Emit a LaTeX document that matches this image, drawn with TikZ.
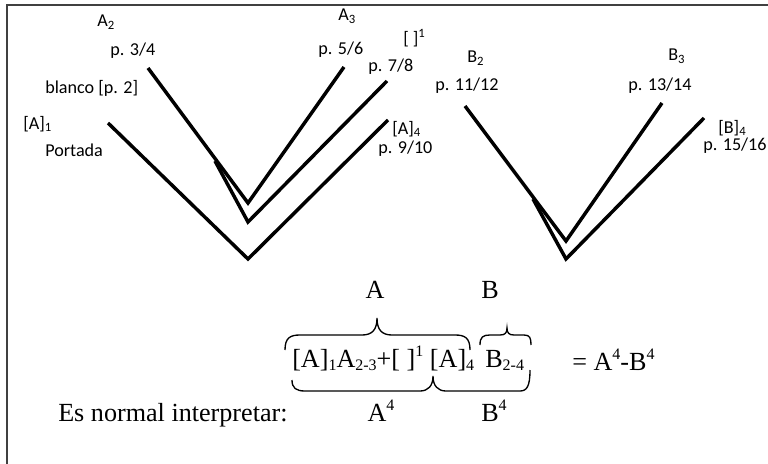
\documentclass[tikz,border=0pt]{standalone}
\usepackage{fontspec}
\setmainfont{Liberation Serif}
\newfontfamily\lab{Carlito}
\newcommand{\lo}[1]{\raisebox{-0.12em}{\fontsize{12}{12}\selectfont #1}}
\newcommand{\hi}[1]{\raisebox{0.42em}{\fontsize{12}{12}\selectfont #1}}
\tikzset{
  pg/.style={line width=2.6pt, line join=miter},
  lbl/.style={anchor=west, inner sep=0pt, font=\lab\fontsize{13.6}{15}\selectfont},
  ser/.style={anchor=base west, inner sep=0pt, font=\fontsize{19.6}{22}\selectfont},
  brc/.style={line width=1pt},
  frame/.style={line width=1.4pt, black!75}
}
\begin{document}
\begin{tikzpicture}[x=0.75pt,y=-0.75pt]
\useasboundingbox (0,0) rectangle (768,464);
% frame
\coordinate (f1) at (7,464);
\coordinate (f2) at (7,5);
\coordinate (f3) at (768,5);
\draw[frame] (f1) -- (f2) -- (f3);

% A group
\coordinate (a1) at (108,123);
\coordinate (a2) at (148,68);
\coordinate (a3) at (344,67);
\coordinate (a4) at (387,81);
\coordinate (a5) at (388,120);
\coordinate (av1) at (248,203);
\coordinate (av2) at (248,222);
\coordinate (av3) at (248,259);
\coordinate (ab) at (215,161);
\draw[pg] (a1) -- (av3) -- (a5);
\draw[pg] (a2) -- (av1) -- (a3);
\draw[pg] (ab) -- (av2) -- (a4);

% B group
\coordinate (b2) at (465,106);
\coordinate (b3) at (662,103);
\coordinate (b4) at (704,118);
\coordinate (bv1) at (566,241);
\coordinate (bv2) at (566,259);
\coordinate (bb) at (533,199);
\draw[pg] (b2) -- (bv1) -- (b3);
\draw[pg] (bb) -- (bv2) -- (b4);

% sans labels
\node[lbl] (lA2) at (97,22) {A\textsubscript{2}};
\node[lbl] (lp34) at (110,51) {p. 3/4};
\node[lbl] (lbl2) at (45,88) {blanco [p. 2]};
\node[lbl] (lA1) at (23,124) {[A]\textsubscript{1}};
\node[lbl] (lport) at (45,150) {Portada};
\node[lbl] (lA3) at (338,16) {A\textsubscript{3}};
\node[lbl] (lsq) at (403,38) {[ ]\textsuperscript{1}};
\node[lbl] (lp56) at (318,50) {p. 5/6};
\node[lbl] (lp78) at (368,67) {p. 7/8};
\node[lbl] (lA4) at (392,129) {[A]\textsubscript{4}};
\node[lbl] (lp910) at (378,149) {p. 9/10};
\node[lbl] (lB2) at (467,58) {B\textsubscript{2}};
\node[lbl] (lp1112) at (435,86) {p. 11/12};
\node[lbl] (lB3) at (668,56) {B\textsubscript{3}};
\node[lbl] (lp1314) at (628,86) {p. 13/14};
\node[lbl] (lB4) at (718,128) {[B]\textsubscript{4}};
\node[lbl] (lp1516) at (703,146) {p. 15/16};

% serif part
\node[ser, anchor=base] (tA) at (375,298) {A};
\node[ser, anchor=base] (tB) at (490,298) {B};
\node[ser] (form) at (292,367) {[A]\lo{1}A\lo{2-3}+[ ]\hi{1} [A]\lo{4}};
\node[ser] (formB) at (485,367) {B\lo{2-4}};
\node[ser] (eq) at (572,370) {= A\hi{4}-B\hi{4}};
\node[ser] (es) at (58,421) {Es normal interpretar:};
\node[ser, anchor=base] (A4) at (381,421) {A\hi{4}};
\node[ser, anchor=base] (B4) at (494,421) {B\hi{4}};

% braces
\draw[brc] (285,350) .. controls (285,338) and (290,335) .. (300,335) -- (362,335)
  .. controls (372,335) and (377,330) .. (377,318)
  .. controls (377,330) and (382,335) .. (392,335) -- (455,335)
  .. controls (465,335) and (470,338) .. (470,350);
\draw[brc] (480,345) .. controls (480,337) and (483,335) .. (490,335) -- (500,335)
  .. controls (505,335) and (507,333) .. (507,328)
  .. controls (507,333) and (509,335) .. (514,335) -- (524,335)
  .. controls (530,335) and (531,338) .. (531,345);
\draw[brc] (292,380) .. controls (292,388) and (296,391) .. (305,391) -- (420,391)
  .. controls (428,391) and (433,386) .. (433,376)
  .. controls (433,386) and (438,391) .. (446,391) -- (520,391)
  .. controls (527,391) and (530,386) .. (530,370);
\end{tikzpicture}
\end{document}
